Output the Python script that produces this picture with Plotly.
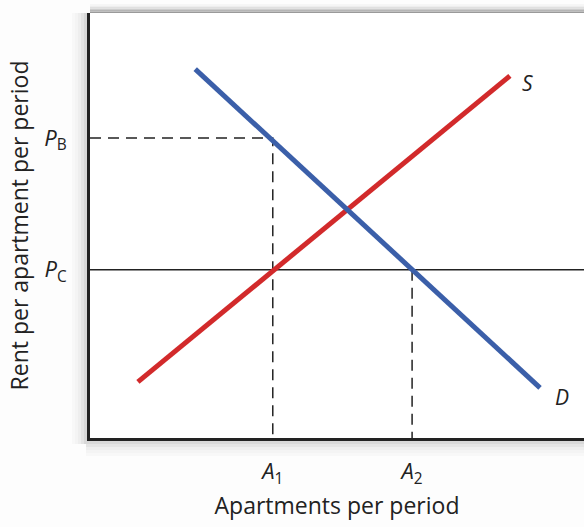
import plotly.graph_objects as go

# ---- data (arbitrary model units) ----
supply_x = [9.7, 85.0]
supply_y = [13.2, 85.2]
demand_x = [21.3, 91.1]
demand_y = [86.8, 11.8]
price_vals = [70.6, 39.6]          # P_B, P_C
price_labels = ["<i>P</i><sub>B</sub>", "<i>P</i><sub>C</sub>"]
qty_vals = [37.0, 65.2]            # A_1, A_2
qty_labels = ["<i>A</i><sub>1</sub>", "<i>A</i><sub>2</sub>"]
curve_labels = ["S", "D"]
curve_label_pos = [(88.5, 83.5), (95.5, 9.6)]

RED = "#d22a2b"
BLUE = "#3b5fa9"
FONT = "Open Sans"

fig = go.Figure()

# dashed guide lines
pb, pc = price_vals
a1, a2 = qty_vals
fig.add_trace(go.Scatter(x=[0, a1, a1], y=[pb, pb, 0], mode="lines",
                         line=dict(color="#222", width=1.5, dash="11px,7px"),
                         hoverinfo="skip", showlegend=False))
fig.add_trace(go.Scatter(x=[a2, a2], y=[pc, 0], mode="lines",
                         line=dict(color="#222", width=1.5, dash="11px,7px"),
                         hoverinfo="skip", showlegend=False))
# price ceiling line
fig.add_trace(go.Scatter(x=[0, 100], y=[pc, pc], mode="lines",
                         line=dict(color="#222", width=1.6),
                         hoverinfo="skip", showlegend=False))
# supply and demand
fig.add_trace(go.Scatter(x=supply_x, y=supply_y, mode="lines",
                         line=dict(color=RED, width=5), showlegend=False))
fig.add_trace(go.Scatter(x=demand_x, y=demand_y, mode="lines",
                         line=dict(color=BLUE, width=5), showlegend=False))

for lab, (lx, ly) in zip(curve_labels, curve_label_pos):
    fig.add_annotation(x=lx, y=ly, text=f"<i>{lab}</i>", showarrow=False,
                       font=dict(family=FONT, size=21, color="#222"))

# soft frame shadows (paper coords)
PH, PW = 425.0, 494.0
shapes = []
grays = ["#9a9a9a", "#b5b5b5", "#cdcdcd", "#e0e0e0", "#eeeeee", "#f6f6f6"]
for i, g in enumerate(grays):
    shapes.append(dict(type="rect", xref="paper", yref="paper", layer="below",
                       x0=0, x1=1, y0=1 + (i * 1.5) / PH, y1=1 + (i * 1.5 + 1.5) / PH,
                       fillcolor=g, line=dict(width=0)))
lgrays = ["#c8c8c8", "#d8d8d8", "#e4e4e4", "#eeeeee", "#f4f4f4", "#f8f8f8"]
for i, g in enumerate(lgrays):
    shapes.append(dict(type="rect", xref="paper", yref="paper", layer="below",
                       x0=-(i * 3 + 3) / PW, x1=-(i * 3) / PW, y0=-6 / PH, y1=1,
                       fillcolor=g, line=dict(width=0)))
    shapes.append(dict(type="rect", xref="paper", yref="paper", layer="below",
                       x0=-4 / PW, x1=1, y0=-(i * 3 + 3) / PH, y1=-(i * 3) / PH,
                       fillcolor=g, line=dict(width=0)))

fig.update_layout(
    width=584, height=527,
    margin=dict(l=90, r=0, t=13, b=89),
    paper_bgcolor="#fdfdfd", plot_bgcolor="white",
    font=dict(family=FONT, size=20, color="#222"),
    shapes=shapes,
    xaxis=dict(range=[0, 100], showgrid=False, zeroline=False,
               showline=True, linecolor="#222", linewidth=3,
               tickmode="array", tickvals=qty_vals, ticktext=qty_labels,
               ticks="", ticklabelstandoff=12,
               tickfont=dict(family=FONT, size=22, color="#222"),
               title=dict(text="Apartments per period", standoff=6,
                          font=dict(family=FONT, size=23, color="#222"))),
    yaxis=dict(range=[0, 100], showgrid=False, zeroline=False,
               showline=True, linecolor="#222", linewidth=3,
               tickmode="array", tickvals=price_vals, ticktext=price_labels,
               ticks="", ticklabelstandoff=16,
               tickfont=dict(family=FONT, size=22, color="#222"),
               title=dict(text="Rent per apartment per period", standoff=10,
                          font=dict(family=FONT, size=23, color="#222"))),
)

fig.write_html("out.html", config={"displayModeBar": False},
               post_script="document.body.style.margin='0';")
